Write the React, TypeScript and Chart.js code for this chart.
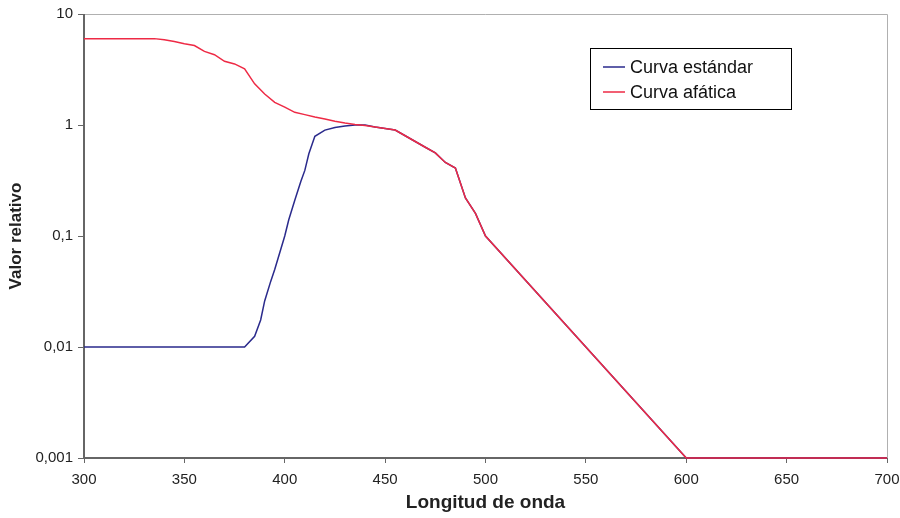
import React, { useEffect, useRef } from "react";
import { Chart, registerables } from "chart.js";

Chart.register(...registerables);

const standardX = [300, 380, 385, 388, 390, 393, 395, 400, 402, 405, 408, 410, 412, 415, 420, 425, 430, 435, 440, 445, 450, 455, 460, 465, 470, 475, 480, 485, 490, 495, 500, 600, 700];
const standardY = [0.01, 0.01, 0.0125, 0.0175, 0.026, 0.039, 0.05, 0.1, 0.14, 0.21, 0.31, 0.39, 0.55, 0.79, 0.9, 0.95, 0.98, 1.0, 1.0, 0.96, 0.93, 0.9, 0.8, 0.71, 0.63, 0.56, 0.46, 0.41, 0.22, 0.16, 0.1, 0.001, 0.001];

const aphakicX = [300, 335, 340, 345, 350, 355, 360, 365, 370, 375, 380, 385, 390, 395, 400, 405, 410, 415, 420, 425, 430, 435, 440, 445, 450, 455, 460, 465, 470, 475, 480, 485, 490, 495, 500, 600, 700];
const aphakicY = [6, 6, 5.85, 5.65, 5.4, 5.2, 4.6, 4.3, 3.75, 3.55, 3.2, 2.35, 1.9, 1.6, 1.45, 1.3, 1.24, 1.18, 1.13, 1.08, 1.04, 1.01, 0.99, 0.96, 0.93, 0.9, 0.8, 0.71, 0.63, 0.56, 0.46, 0.41, 0.22, 0.16, 0.1, 0.001, 0.001];

const yTicks = [0.001, 0.01, 0.1, 1, 10];
const seriesLabels = ["Curva estándar", "Curva afática"];
const seriesColors = ["#2a2a8c", "#ee2a45"];

const FONT = "'Liberation Sans', Arial, sans-serif";

const framePlugin = {
  id: "frame",
  beforeDatasetsDraw(chart: any) {
    const { ctx, chartArea } = chart;
    ctx.save();
    ctx.strokeStyle = "#b0b0b0";
    ctx.lineWidth = 1;
    ctx.beginPath();
    ctx.moveTo(chartArea.left, chartArea.top + 0.5);
    ctx.lineTo(chartArea.right + 0.5, chartArea.top + 0.5);
    ctx.lineTo(chartArea.right + 0.5, chartArea.bottom);
    ctx.stroke();
    ctx.strokeStyle = "#666666";
    ctx.lineWidth = 2;
    ctx.beginPath();
    ctx.moveTo(chartArea.left, chartArea.top);
    ctx.lineTo(chartArea.left, chartArea.bottom);
    ctx.lineTo(chartArea.right, chartArea.bottom);
    ctx.stroke();
    ctx.restore();
  },
  afterDraw(chart: any) {
    const { ctx } = chart;
    ctx.save();
    const bx = 590, by = 48, bw = 201, bh = 61;
    ctx.fillStyle = "#ffffff";
    ctx.fillRect(bx, by, bw, bh);
    ctx.strokeStyle = "#000000";
    ctx.lineWidth = 1;
    ctx.strokeRect(bx + 0.5, by + 0.5, bw, bh);
    ctx.font = `18px ${FONT}`;
    ctx.textBaseline = "middle";
    ctx.textAlign = "left";
    const rows = [67, 92];
    seriesLabels.forEach((lab, i) => {
      ctx.strokeStyle = seriesColors[i];
      ctx.lineWidth = 1.5;
      ctx.beginPath();
      ctx.moveTo(603, rows[i]);
      ctx.lineTo(625, rows[i]);
      ctx.stroke();
      ctx.fillStyle = "#111111";
      ctx.fillText(lab, 630, rows[i] + 1);
    });
    ctx.restore();
  },
};

export default function App() {
  const ref = useRef<HTMLCanvasElement>(null);
  useEffect(() => {
    const canvas = ref.current!;
    const chart = new Chart(canvas, {
      type: "line",
      data: {
        datasets: [
          {
            label: seriesLabels[0],
            data: standardX.map((x, i) => ({ x, y: standardY[i] })),
            borderColor: seriesColors[0],
            borderWidth: 1.5,
            pointRadius: 0,
            tension: 0,
            order: 2,
            clip: 4,
          },
          {
            label: seriesLabels[1],
            data: aphakicX.map((x, i) => ({ x, y: aphakicY[i] })),
            borderColor: seriesColors[1],
            borderWidth: 1.5,
            pointRadius: 0,
            tension: 0,
            order: 1,
            clip: 4,
          },
        ],
      },
      options: {
        animation: false,
        responsive: false,
        layout: { padding: { top: 14, right: 13, left: 2, bottom: 0 } },
        plugins: { legend: { display: false }, tooltip: { enabled: false } },
        scales: {
          x: {
            type: "linear",
            min: 300,
            max: 700,
            ticks: {
              stepSize: 50,
              color: "#222",
              font: { family: FONT, size: 15 },
              padding: 8,
              maxRotation: 0,
            },
            grid: { drawOnChartArea: false, color: "#666", tickLength: 5 },
            border: { display: false },
            title: {
              display: true,
              text: "Longitud de onda",
              color: "#222",
              font: { family: FONT, size: 19, weight: "bold" },
              padding: { top: 7 },
            },
            afterFit(scale: any) {
              scale.height = 60;
              scale.paddingRight = 0;
            },
          },
          y: {
            type: "logarithmic",
            min: 0.001,
            max: 10,
            afterBuildTicks(scale: any) {
              scale.ticks = yTicks.map((v) => ({ value: v }));
            },
            ticks: {
              color: "#222",
              font: { family: FONT, size: 15 },
              padding: 5,
              callback: (v: any) => String(v).replace(".", ","),
            },
            grid: { drawOnChartArea: false, color: "#666", tickLength: 6 },
            border: { display: false },
            title: {
              display: true,
              text: "Valor relativo",
              color: "#222",
              font: { family: FONT, size: 17, weight: "bold" },
              padding: { bottom: 2 },
            },
            afterFit(scale: any) {
              scale.width = 82;
            },
          },
        },
      },
      plugins: [framePlugin],
    } as any);
    return () => chart.destroy();
  }, []);
  return (
    <div style={{ position: "fixed", left: 0, top: 0, width: 900, height: 518, background: "#fff" }}>
      <canvas ref={ref} width={900} height={518} />
    </div>
  );
}
